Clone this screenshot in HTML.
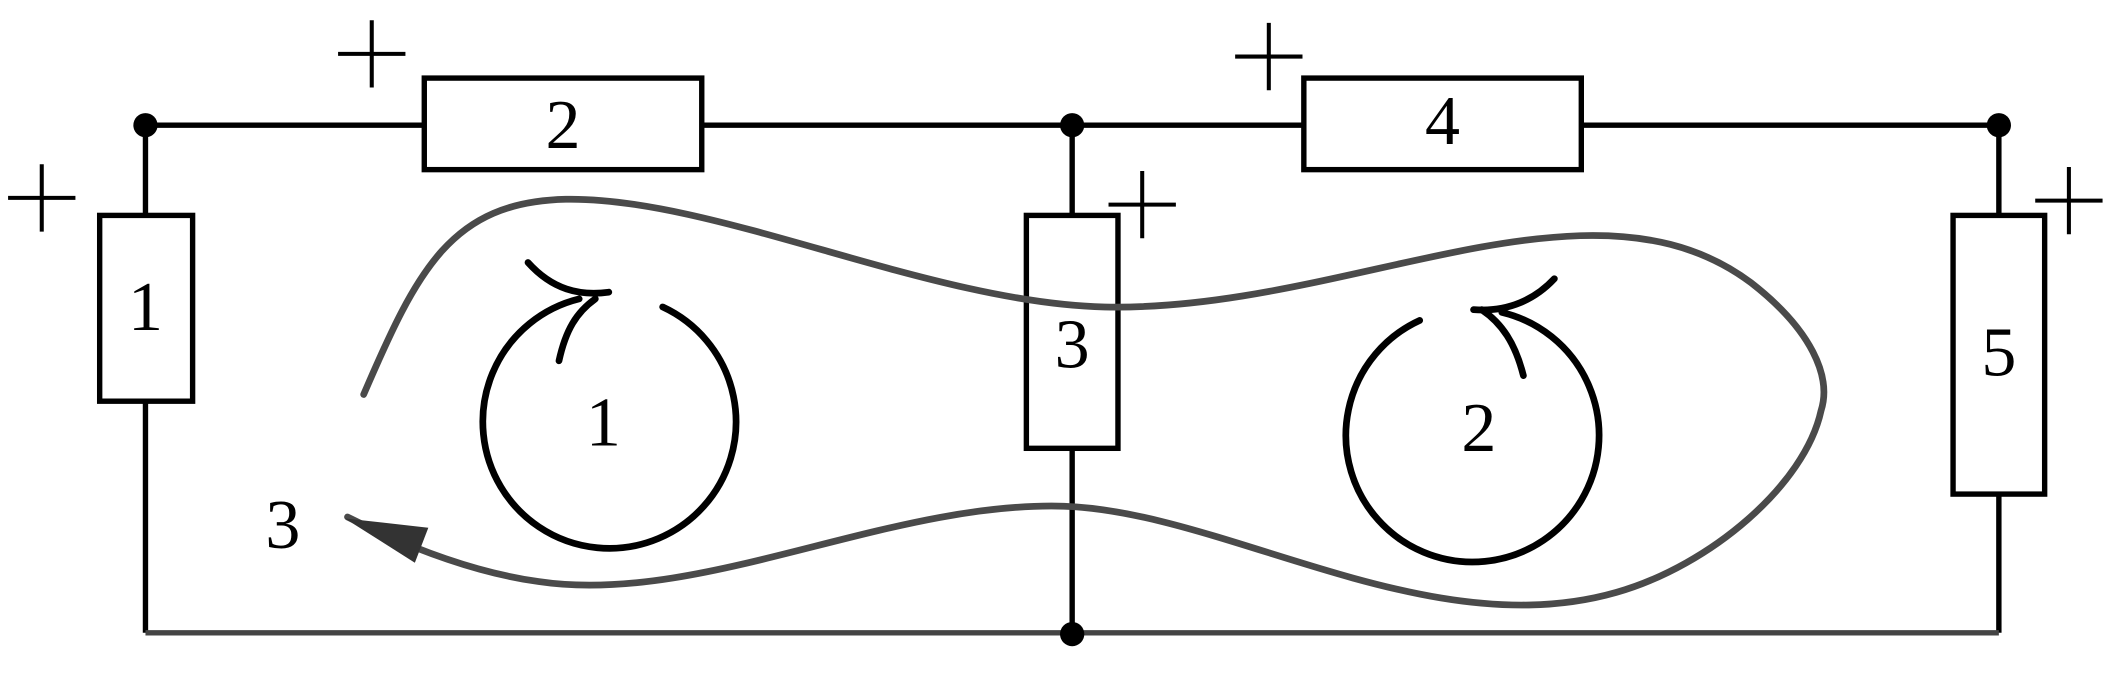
<!DOCTYPE html>
<html><head><meta charset="utf-8"><style>
html,body{margin:0;padding:0;background:#fff}
svg{display:block}
text{font-family:"Liberation Serif",serif;font-size:52px;fill:#000}
</style></head><body>
<svg width="2112" height="692" viewBox="0 0 1568 514" preserveAspectRatio="none" xmlns="http://www.w3.org/2000/svg">
<g stroke="#000" stroke-width="4" fill="none">
<line x1="108" y1="93" x2="1484" y2="93"/>
<line x1="108" y1="93" x2="108" y2="470"/>
<line x1="796" y1="93" x2="796" y2="470"/>
<line x1="1484" y1="93" x2="1484" y2="470"/>
</g>
<line x1="108" y1="470" x2="1484" y2="470" stroke="#444" stroke-width="4"/>
<g fill="#fff" stroke="#000" stroke-width="4">
<rect x="315" y="58" width="206" height="68"/>
<rect x="968" y="58" width="206" height="68"/>
<rect x="74" y="160" width="69" height="138"/>
<rect x="762" y="160" width="68" height="173"/>
<rect x="1450" y="160" width="68" height="207"/>
</g>
<g fill="#000">
<circle cx="108" cy="93" r="9"/>
<circle cx="796" cy="93" r="9"/>
<circle cx="1484" cy="93" r="9"/>
<circle cx="796" cy="471" r="9"/>
</g>
<g stroke="#000" stroke-width="3">
<path d="M251 40h50M276 15v50"/>
<path d="M917 42h50M942 17v50"/>
<path d="M6 147h50M31 122v50"/>
<path d="M823 152h50M848 127v50"/>
<path d="M1511 149h50M1536 124v50"/>
</g>
<g text-anchor="middle">
<text x="418" y="110">2</text>
<text x="1071" y="107">4</text>
<text x="108" y="245">1</text>
<text x="796" y="273">3</text>
<text x="1484" y="279">5</text>
<text x="448" y="331">1</text>
<text x="1098" y="335">2</text>
<text x="210" y="407">3</text>
</g>
<g stroke="#000" stroke-width="5" fill="none" stroke-linecap="round">
<path d="M492 228 A94 94 0 1 1 430 222"/>
<path d="M392 195 C410 215 430 220 452 217"/>
<path d="M415 268 C420 245 428 232 442 222"/>
</g>
<g stroke="#000" stroke-width="5" fill="none" stroke-linecap="round">
<path d="M1054 238 A94 94 0 1 0 1115 232"/>
<path d="M1154 207 C1140 222 1120 232 1094 230"/>
<path d="M1131 279 C1125 255 1115 240 1100 230"/>
</g>
<path stroke="#4a4a4a" stroke-width="5" fill="none" stroke-linecap="round" d="M270 293 C310 200 335 150 420 148 C530 146 690 225 820 228 C1000 232 1180 120 1300 210 C1345 245 1360 280 1352 305 C1340 360 1270 420 1200 440 C1060 480 910 380 790 376 C660 372 520 450 400 432 C350 425 300 405 258 384"/>
<path d="M256 385 L318 392 L308 418 Z" fill="#333"/>
</svg>
</body></html>
